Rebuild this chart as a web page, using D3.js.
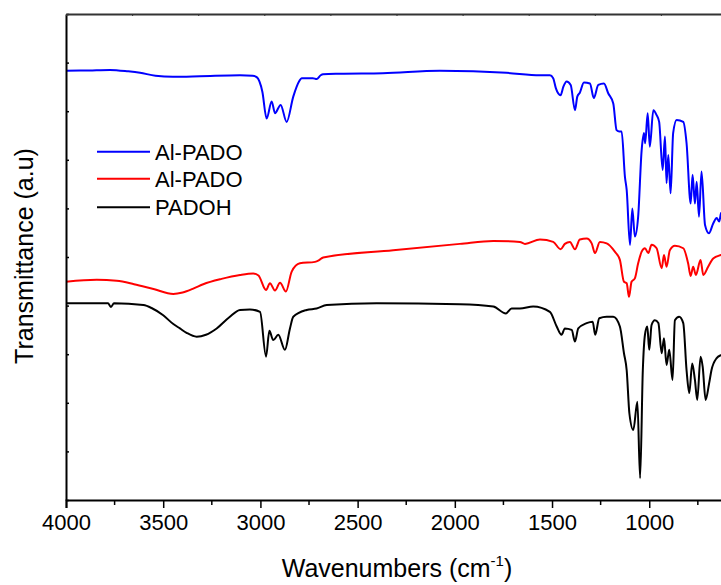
<!DOCTYPE html>
<html>
<head>
<meta charset="utf-8">
<script src="https://cdn.jsdelivr.net/npm/d3@7"></script>
<style>
  html, body { margin: 0; padding: 0; background: #fff; }
  svg { display: block; font-family: "Liberation Sans", Arial, sans-serif; }
</style>
</head>
<body>
<svg id="chart" width="721" height="585"></svg>
<script>
// ---- Data (wavenumber cm^-1, transmittance a.u.) ----
const wavenumberTicks = [4000, 3500, 3000, 2500, 2000, 1500, 1000];
const seriesNames = ["Al-PADO", "Al-PADO", "PADOH"];
const seriesColors = ["#0000ff", "#ff0000", "#000000"];

const alPadoBlue = [
  [4000,8.83],[3880,8.84],[3774,8.85],[3680,8.82],[3619,8.79],[3540,8.73],[3450,8.71],
  [3311,8.72],[3105,8.74],[3040,8.73],[3019,8.70],[2990,8.40],
  [2968,7.85],[2942,8.20],[2925,7.96],[2896,8.13],[2865,7.78],[2831,8.30],[2800,8.62],[2788,8.68],
  [2730,8.68],[2711,8.66],[2690,8.74],[2678,8.76],[2591,8.77],[2370,8.78],[2077,8.83],[1734,8.79],
  [1562,8.74],[1511,8.74],[1494,8.68],[1480,8.47],[1456,8.33],[1442,8.50],[1425,8.61],
  [1404,8.54],[1382,8.02],[1370,8.30],[1357,8.38],[1336,8.59],[1305,8.57],[1285,8.27],
  [1262,8.54],[1233,8.57],[1211,8.37],[1185,8.16],[1168,7.61],[1154,7.58],[1142,7.58],
  [1125,6.65],[1116,6.38],[1099,5.25],[1087,6.00],[1074,5.42],[1057,5.83],[1039,7.20],
  [1027,7.55],[1021,7.34],[1008,7.96],[997,7.27],[979,8.02],[962,7.92],[949,7.78],
  [931,6.79],[919,7.48],[911,6.52],[902,7.10],[890,6.31],[877,7.55],[859,7.82],
  [825,7.78],[808,7.34],[787,6.10],[777,6.69],[765,6.10],[756,6.55],[744,5.83],
  [731,6.76],[713,5.66],[693,5.49],[671,5.69],[653,5.80],[640,5.73],[631,5.90],[615,5.95]
];

const alPadoRed = [
  [4000,4.49],[3842,4.53],[3739,4.51],[3650,4.44],[3550,4.34],[3448,4.24],[3400,4.27],
  [3340,4.36],[3294,4.44],[3200,4.55],[3105,4.63],[3037,4.66],[3010,4.62],[2971,4.32],[2951,4.46],[2925,4.31],
  [2899,4.47],[2869,4.29],[2839,4.70],[2797,4.87],[2719,4.90],[2700,4.93],[2677,4.99],[2317,5.14],
  [1974,5.27],[1802,5.33],[1665,5.31],[1639,5.27],[1562,5.36],[1494,5.31],[1456,5.16],
  [1434,5.27],[1408,5.31],[1382,5.16],[1357,5.36],[1322,5.38],[1296,5.28],[1279,5.08],
  [1254,5.31],[1219,5.28],[1177,5.11],[1151,4.94],[1130,4.49],[1116,4.46],[1104,4.18],
  [1091,4.49],[1074,4.56],[1057,4.87],[1039,5.11],[1022,5.18],[1005,5.08],[988,5.25],
  [962,5.18],[936,4.77],[924,5.04],[911,4.80],[894,5.14],[868,5.23],[825,5.18],
  [800,4.87],[787,4.61],[774,4.80],[760,4.63],[736,4.94],[722,4.63],[697,4.80],
  [671,4.97],[631,5.04],[615,5.06]
];

const padoh = [
  [4000,4.05],[3784,4.05],[3769,3.97],[3753,4.05],[3602,4.01],[3560,3.95],[3500,3.80],
  [3448,3.62],[3414,3.53],[3380,3.44],[3328,3.36],[3280,3.40],[3225,3.53],[3160,3.76],
  [3105,3.91],[3054,3.92],[3002,3.87],[2971,2.95],
  [2954,3.48],[2934,3.29],[2908,3.40],[2874,3.09],[2848,3.53],[2831,3.77],[2762,3.91],
  [2711,3.94],[2659,4.01],[2402,4.05],[1974,4.03],[1802,3.98],[1737,3.84],[1708,3.94],
  [1665,3.94],[1597,3.98],[1511,3.87],[1476,3.57],[1451,3.40],[1434,3.53],[1399,3.50],
  [1382,3.26],[1365,3.53],[1322,3.64],[1291,3.67],[1278,3.40],[1257,3.74],[1219,3.77],
  [1185,3.77],[1151,3.57],[1130,3.02],[1116,2.67],[1102,1.78],[1082,1.44],[1061,2.02],
  [1047,0.45],[1033,2.67],[1022,3.40],[1010,3.57],[1000,3.09],[988,3.60],[971,3.70],
  [953,3.64],[936,3.02],[924,3.33],[911,2.78],[897,3.09],[880,2.47],[868,3.70],
  [846,3.77],[825,3.64],[808,2.67],[794,2.20],[779,2.81],[765,2.47],[753,2.06],
  [736,2.95],[725,2.74],[710,2.06],[692,2.40],[680,2.67],[653,2.92],[631,2.98],[615,3.00]
];

const allSeries = [alPadoBlue, alPadoRed, padoh];

// ---- Layout ----
const svg = d3.select("#chart");
const mLeft = 66, mTop = 14, mBottom = 500, mRight = 727;

const x = d3.scaleLinear().domain([4000, 600]).range([mLeft, mRight]);
const y = d3.scaleLinear().domain([0, 10]).range([mBottom, mTop]);

// clip
svg.append("defs").append("clipPath").attr("id", "clip")
  .append("rect").attr("x", mLeft).attr("y", mTop).attr("width", mRight - mLeft).attr("height", mBottom - mTop);

// lines
const line = d3.line().x(d => x(d[0])).y(d => y(d[1])).curve(d3.curveMonotoneX);
const plot = svg.append("g").attr("clip-path", "url(#clip)");
allSeries.forEach((s, i) => {
  plot.append("path").datum(s)
    .attr("fill", "none")
    .attr("stroke", seriesColors[i])
    .attr("stroke-width", 2)
    .attr("stroke-linejoin", "round")
    .attr("d", line);
});

// bottom axis (major)
const xAxis = d3.axisBottom(x).tickValues(wavenumberTicks).tickSize(8).tickPadding(6)
  .tickFormat(d3.format("d"));
const gx = svg.append("g").attr("transform", `translate(0,${mBottom})`).call(xAxis);
gx.select(".domain").attr("stroke", "#000").attr("stroke-width", 2);
gx.selectAll(".tick line").attr("stroke", "#000").attr("stroke-width", 1.5);
gx.selectAll(".tick text").attr("font-size", 22).attr("fill", "#000")
  .attr("font-family", "Liberation Sans, Arial, sans-serif");

// minor ticks
const minor = d3.range(3750, 600, -500);
svg.append("g").selectAll("line").data(minor).join("line")
  .attr("x1", d => x(d)).attr("x2", d => x(d))
  .attr("y1", mBottom).attr("y2", mBottom + 5)
  .attr("stroke", "#000").attr("stroke-width", 1.5);

// left axis (ticks inward, no labels)
const yAxis = d3.axisLeft(y).ticks(10).tickSizeInner(-3).tickSizeOuter(0).tickFormat("");
const gy = svg.append("g").attr("transform", `translate(${mLeft},0)`).call(yAxis);
gy.select(".domain").attr("stroke", "#000").attr("stroke-width", 2);
gy.selectAll(".tick line").attr("stroke", "#000").attr("stroke-width", 1.5);

// top axis (small ticks inward)
const xTop = d3.scaleLinear().domain([0, 10]).range([mLeft, mRight]);
const topAxis = d3.axisTop(xTop).ticks(10).tickSizeInner(-2).tickSizeOuter(0).tickFormat("");
const gt = svg.append("g").attr("transform", `translate(0,${mTop})`).call(topAxis);
gt.select(".domain").attr("stroke", "#333").attr("stroke-width", 2);
gt.selectAll(".tick line").attr("stroke", "#333").attr("stroke-width", 1);

// axis titles
svg.append("text")
  .attr("transform", "translate(33,256) rotate(-90)")
  .attr("text-anchor", "middle")
  .attr("font-size", 25)
  .attr("fill", "#000")
  .text("Transmittance (a.u)");

const xt = svg.append("text")
  .attr("x", 397).attr("y", 577)
  .attr("text-anchor", "middle")
  .attr("font-size", 25)
  .attr("fill", "#000");
xt.append("tspan").text("Wavenumbers (cm");
xt.append("tspan").attr("font-size", 15).attr("dy", -11).text("-1");
xt.append("tspan").attr("dy", 11).text(")");

// legend
const legendY = [151.7, 178.8, 207.3];
const lg = svg.append("g");
seriesNames.forEach((name, i) => {
  lg.append("line")
    .attr("x1", 97).attr("x2", 150)
    .attr("y1", legendY[i]).attr("y2", legendY[i])
    .attr("stroke", seriesColors[i]).attr("stroke-width", 2);
  lg.append("text")
    .attr("x", 155).attr("y", legendY[i] + 7.8)
    .attr("font-size", 22)
    .attr("fill", "#000")
    .text(name);
});
</script>
</body>
</html>
